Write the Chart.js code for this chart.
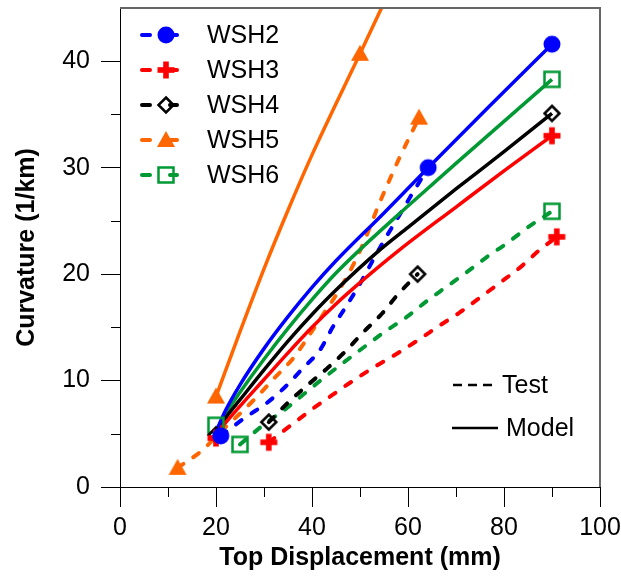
<!DOCTYPE html>
<html>
<head>
<meta charset="utf-8">
<script src="https://cdn.jsdelivr.net/npm/chart.js@4/dist/chart.umd.min.js"></script>
<style>
  html, body { margin: 0; padding: 0; background: #fff; }
  #wrap { width: 621px; height: 578px; }
</style>
</head>
<body>
<div id="wrap"><canvas id="my-chart" width="621" height="578"></canvas></div>
<script>
const seriesNames = ['WSH2', 'WSH3', 'WSH4', 'WSH5', 'WSH6'];
const seriesColors = ['#0000ff', '#ff0000', '#000000', '#ff6600', '#009933'];

// test results (dashed)
const wsh2Test = [[21, 4.8], [26, 6.5], [30.6, 7.9], [34.4, 9.4], [38.2, 11.2], [41.7, 12.9], [44.3, 15.0], [47.3, 17.1], [50, 19.1], [52.7, 21.3], [55.2, 23.3], [57.9, 25.3], [60.4, 27.2], [64.2, 30]];
const wsh3Test = [[31, 4.2], [35.6, 5.8], [40, 7.3], [44.1, 8.6], [48.6, 10.0], [53.1, 11.3], [57.6, 12.5], [62.1, 13.8], [66.7, 15.2], [70.8, 16.4], [75, 17.8], [79.2, 19.2], [83.8, 20.8], [87.5, 22.3], [91, 23.5]];
const wsh4Test = [[31, 6.1], [35.4, 8.1], [39.4, 9.7], [43.3, 11.2], [47.3, 12.9], [50.6, 14.5], [54.6, 16.3], [57.9, 18.1], [62, 20]];
const wsh5Test = [[12, 1.8], [17, 3.4], [21, 5.2], [25, 6.9], [28.8, 8.6], [32.3, 10.3], [36.1, 12.1], [38.9, 13.9], [42.3, 16.2], [45.8, 18.6], [49.4, 21.6], [51.7, 24.0], [53.8, 26.4], [56.3, 29.0], [58.3, 31.0], [62.3, 34.7]];
const wsh6Test = [[25, 4], [29.8, 5.8], [34.4, 7.3], [38.5, 8.8], [42.3, 10.2], [46.9, 11.8], [51, 13.2], [55.2, 14.6], [59.8, 16.0], [64, 17.5], [68, 18.8], [72.3, 20.2], [76.4, 21.6], [80.6, 22.9], [85, 24.4], [90, 25.9]];

// model predictions (solid)
const wsh2Model = [[20, 5.2], [22, 7.2], [25, 9.6], [30, 13.0], [35, 16.0], [40, 18.75], [45, 21.25], [55, 25.75], [64.2, 30], [77, 35.8], [90, 41.6]];
const wsh3Model = [[20, 5.0], [25, 7.6], [30, 10.1], [35, 12.6], [40, 15.0], [45, 17.2], [50, 19.2], [58.3, 22.3], [70, 26.3], [80, 29.7], [90, 33]];
const wsh4Model = [[20, 5.2], [22.5, 6.8], [25, 8.2], [30, 11.0], [35, 13.7], [40, 16.2], [45, 18.5], [54.2, 22.3], [60, 24.4], [70, 28], [80, 31.5], [90, 35.1]];
const wsh5Model = [[20, 8.5], [25, 14.6], [30, 20.5], [35, 26.0], [40, 31.2], [45, 36.0], [50, 40.7], [55, 45.5]];
const wsh6Model = [[20, 5.3], [22, 6.9], [25, 8.9], [30, 12.0], [35, 14.9], [40, 17.6], [45, 20.1], [50, 22.3], [60, 26.4], [70, 30.4], [80, 34.35], [90, 38.3]];

// symbols shown on the curves
const wsh2Marks = [[21, 4.8], [64.2, 30], [90, 41.6]];
const wsh3Marks = [[20, 4.6], [31, 4.2], [91, 23.5], [90, 33]];
const wsh4Marks = [[20, 4.9], [31, 6.1], [62, 20], [90, 35.1]];
const wsh5Marks = [[12, 1.8], [20, 8.5], [50, 40.7], [62.3, 34.7]];
const wsh6Marks = [[20, 5.8], [25, 4], [90, 25.9], [90, 38.3]];

const xMajor = [0, 20, 40, 60, 80, 100];
const xMinor = [10, 30, 50, 70, 90];
const yMajor = [0, 10, 20, 30, 40];
const yMinor = [5, 15, 25, 35];

const FONT = '"Liberation Sans", Arial, sans-serif';

function makeMarker(kind, color) {
  const c = document.createElement('canvas');
  c.width = 24;
  c.height = 24;
  const g = c.getContext('2d');
  g.translate(12, 12);
  g.fillStyle = color;
  g.strokeStyle = color;
  g.lineWidth = 2.5;
  if (kind === 'circle') {
    g.beginPath();
    g.arc(0, 0, 8.5, 0, Math.PI * 2);
    g.fill();
  } else if (kind === 'plus') {
    g.fillRect(-8.5, -2.8, 17, 5.6);
    g.fillRect(-2.8, -8.5, 5.6, 17);
  } else if (kind === 'diamond') {
    g.beginPath();
    g.moveTo(0, -7.5);
    g.lineTo(7.5, 0);
    g.lineTo(0, 7.5);
    g.lineTo(-7.5, 0);
    g.closePath();
    g.stroke();
  } else if (kind === 'triangle') {
    g.beginPath();
    g.moveTo(0, -9);
    g.lineTo(9, 7);
    g.lineTo(-9, 7);
    g.closePath();
    g.fill();
  } else if (kind === 'square') {
    g.strokeRect(-7.5, -7.5, 15, 15);
  }
  return c;
}

const markerKinds = ['circle', 'plus', 'diamond', 'triangle', 'square'];
const markers = markerKinds.map((k, i) => makeMarker(k, seriesColors[i]));

const toXY = (arr) => arr.map(([x, y]) => ({ x, y }));

const testSets = [wsh2Test, wsh3Test, wsh4Test, wsh5Test, wsh6Test];
const modelSets = [wsh2Model, wsh3Model, wsh4Model, wsh5Model, wsh6Model];
const markSets = [wsh2Marks, wsh3Marks, wsh4Marks, wsh5Marks, wsh6Marks];

const datasets = [];
// markers first so they sit on top
markSets.forEach((m, i) => {
  datasets.push({
    label: seriesNames[i] + ' marks',
    data: toXY(m),
    showLine: false,
    pointStyle: markers[i],
    pointRadius: 6,
  });
});
modelSets.forEach((m, i) => {
  datasets.push({
    label: seriesNames[i] + ' model',
    data: toXY(m),
    showLine: true,
    borderColor: seriesColors[i],
    borderWidth: 3.5,
    pointRadius: 0,
    cubicInterpolationMode: 'monotone',
  });
});
testSets.forEach((t, i) => {
  datasets.push({
    label: seriesNames[i] + ' test',
    data: toXY(t),
    showLine: true,
    borderColor: seriesColors[i],
    borderWidth: 4,
    borderDash: [7, 12],
    borderCapStyle: 'round',
    pointRadius: 0,
    cubicInterpolationMode: 'monotone',
  });
});

const decor = {
  id: 'decor',
  afterDraw(chart) {
    const { ctx, chartArea: a, scales: { x, y } } = chart;
    ctx.save();

    // minor ticks
    ctx.strokeStyle = '#000';
    ctx.lineWidth = 1;
    ctx.beginPath();
    xMinor.forEach((v) => {
      const px = Math.round(x.getPixelForValue(v)) + 0.5;
      ctx.moveTo(px, a.bottom);
      ctx.lineTo(px, a.bottom + 10);
    });
    yMinor.forEach((v) => {
      const py = Math.round(y.getPixelForValue(v)) + 0.5;
      ctx.moveTo(a.left, py);
      ctx.lineTo(a.left - 9, py);
    });
    ctx.stroke();

    // top and right frame
    ctx.strokeStyle = '#666';
    ctx.lineWidth = 2;
    ctx.beginPath();
    ctx.moveTo(a.left, a.top);
    ctx.lineTo(a.right, a.top);
    ctx.lineTo(a.right, a.bottom);
    ctx.stroke();

    // series legend
    ctx.font = '25px ' + FONT;
    ctx.textBaseline = 'middle';
    ctx.textAlign = 'left';
    seriesNames.forEach((name, i) => {
      const ly = 35 + i * 35;
      ctx.strokeStyle = seriesColors[i];
      ctx.lineWidth = 4;
      ctx.lineCap = 'round';
      ctx.setLineDash([8, 40]);
      ctx.beginPath();
      ctx.moveTo(142, ly);
      ctx.lineTo(178, ly);
      ctx.stroke();
      ctx.setLineDash([]);
      ctx.beginPath();
      ctx.moveTo(170, ly);
      ctx.lineTo(177, ly);
      ctx.stroke();
      ctx.drawImage(markers[i], 166 - 12, ly - 12);
      ctx.fillStyle = '#000';
      ctx.fillText(name, 207, ly + 1);
    });

    // line type legend
    ctx.strokeStyle = '#000';
    ctx.lineWidth = 2.5;
    ctx.lineCap = 'butt';
    ctx.setLineDash([9, 6]);
    ctx.beginPath();
    ctx.moveTo(453, 385);
    ctx.lineTo(494, 385);
    ctx.stroke();
    ctx.setLineDash([]);
    ctx.beginPath();
    ctx.moveTo(452, 428);
    ctx.lineTo(498, 428);
    ctx.stroke();
    ctx.fillStyle = '#000';
    ctx.fillText('Test', 502, 386);
    ctx.fillText('Model', 506, 429);

    ctx.restore();
  },
};

const ctx = document.getElementById('my-chart').getContext('2d');

new Chart(ctx, {
  type: 'scatter',
  data: { datasets },
  plugins: [decor],
  options: {
    responsive: false,
    animation: false,
    events: [],
    layout: { padding: { top: 8, right: 21, left: 0, bottom: 0 } },
    plugins: {
      legend: { display: false },
      tooltip: { enabled: false },
    },
    scales: {
      x: {
        type: 'linear',
        min: 0,
        max: 100,
        afterBuildTicks: (s) => { s.ticks = xMajor.map((v) => ({ value: v })); },
        afterFit: (s) => {
          s.height = 91;
          s.paddingLeft = 0;
          s.paddingRight = 0;
        },
        ticks: {
          color: '#000',
          font: { family: FONT, size: 25 },
          padding: 6,
          maxRotation: 0,
        },
        grid: { drawOnChartArea: false, tickLength: 20, color: '#000', tickColor: '#000' },
        border: { color: '#000', width: 1 },
        title: {
          display: true,
          text: 'Top Displacement (mm)',
          color: '#000',
          font: { family: FONT, size: 25, weight: 'bold' },
          padding: { top: 0, bottom: 5 },
        },
      },
      y: {
        type: 'linear',
        min: 0,
        max: 45,
        afterBuildTicks: (s) => { s.ticks = yMajor.map((v) => ({ value: v })); },
        afterFit: (s) => {
          s.width = 120;
          s.paddingTop = 0;
          s.paddingBottom = 0;
        },
        ticks: {
          color: '#000',
          font: { family: FONT, size: 25 },
          padding: 11,
        },
        grid: { drawOnChartArea: false, tickLength: 19, color: '#000', tickColor: '#000' },
        border: { color: '#000', width: 1 },
        title: {
          display: true,
          text: 'Curvature (1/km)',
          color: '#000',
          font: { family: FONT, size: 25, weight: 'bold' },
          padding: { top: 12, bottom: 0 },
        },
      },
    },
  },
});
</script>
</body>
</html>
